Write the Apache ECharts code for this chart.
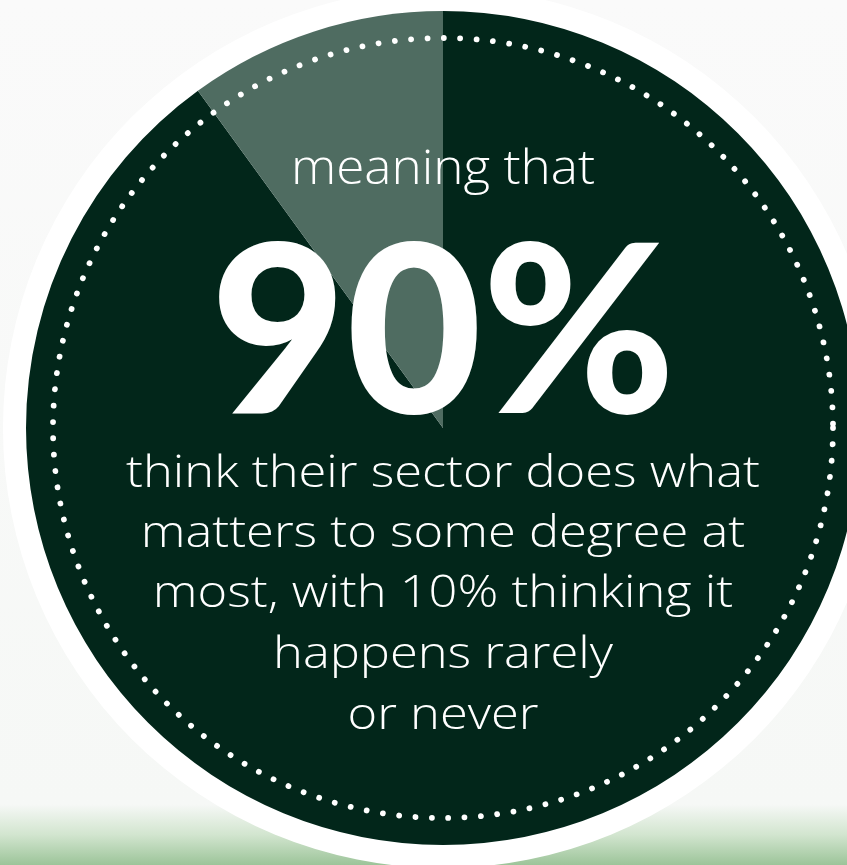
<!DOCTYPE html>
<html>
<head>
<meta charset="utf-8">
<title>meaning that 90%</title>
<script src="https://cdn.jsdelivr.net/npm/echarts@6/dist/echarts.min.js"></script>
<style>
  html, body { margin: 0; padding: 0; }
  #chart { width: 847px; height: 865px; }
</style>
</head>
<body>
<div id="chart"></div>
<script>
// Share of respondents: does what matters (at most to some degree) vs rarely / never
const categories = ['To some degree at most', 'Rarely or never'];
const shares = [90, 10];
const sliceColors = ['#02261a', '#4f6c61'];

const headline = 'meaning that';
const bodyLines = [
  'think their sector does what',
  'matters to some degree at',
  'most, with ' + shares[1] + '% thinking it',
  'happens rarely',
  'or never'
];

const cx = 443, cy = 428;
const R = 417;

const chart = echarts.init(document.getElementById('chart'), null, { renderer: 'canvas' });

const lightFont = '"Open Sans", Lato, sans-serif';
const heavyFont = 'Lato, "Open Sans", sans-serif';

const graphics = [
  // white ring around the disc
  {
    type: 'circle', z: 0,
    shape: { cx: cx, cy: cy, r: 440 },
    style: { fill: '#ffffff' },
    silent: true
  },
  // dotted inner ring
  {
    type: 'circle', z: 100,
    shape: { cx: cx, cy: cy, r: 390 },
    style: {
      fill: null, stroke: '#ffffff', lineWidth: 5.8,
      lineDash: [0.01, 16.4], lineCap: 'round'
    },
    silent: true
  },
  {
    type: 'text', z: 100,
    x: cx, y: 194, scaleX: 1.09,
    style: {
      text: headline, fill: '#ffffff',
      font: '300 47px ' + lightFont,
      align: 'center', verticalAlign: 'bottom'
    },
    silent: true
  },
  {
    type: 'text', z: 100,
    x: cx, y: 338,
    style: {
      text: shares[0] + '%', fill: '#ffffff',
      font: '900 234px ' + heavyFont,
      align: 'center', verticalAlign: 'middle'
    },
    silent: true
  }
];

const baselines = [485, 545, 605, 666, 727];
bodyLines.forEach(function (line, i) {
  graphics.push({
    type: 'text', z: 100,
    x: cx, y: baselines[i] + 11, scaleX: 1.15,
    style: {
      text: line, fill: '#ffffff',
      font: '300 44px ' + lightFont,
      align: 'center', verticalAlign: 'bottom'
    },
    silent: true
  });
});

chart.setOption({
  animation: false,
  backgroundColor: {
    type: 'linear', x: 0, y: 0, x2: 0, y2: 1,
    colorStops: [
      { offset: 0, color: '#fafafa' },
      { offset: 0.93, color: '#f6f8f6' },
      { offset: 0.965, color: '#d2e5cf' },
      { offset: 1, color: '#9cc499' }
    ]
  },
  graphic: { elements: graphics },
  series: [{
    type: 'pie',
    center: [cx, cy],
    radius: [0, R],
    startAngle: 90,
    clockwise: true,
    silent: true,
    label: { show: false },
    labelLine: { show: false },
    emphasis: { disabled: true },
    itemStyle: { borderWidth: 0 },
    data: categories.map(function (name, i) {
      return { name: name, value: shares[i], itemStyle: { color: sliceColors[i] } };
    })
  }]
});
</script>
</body>
</html>
